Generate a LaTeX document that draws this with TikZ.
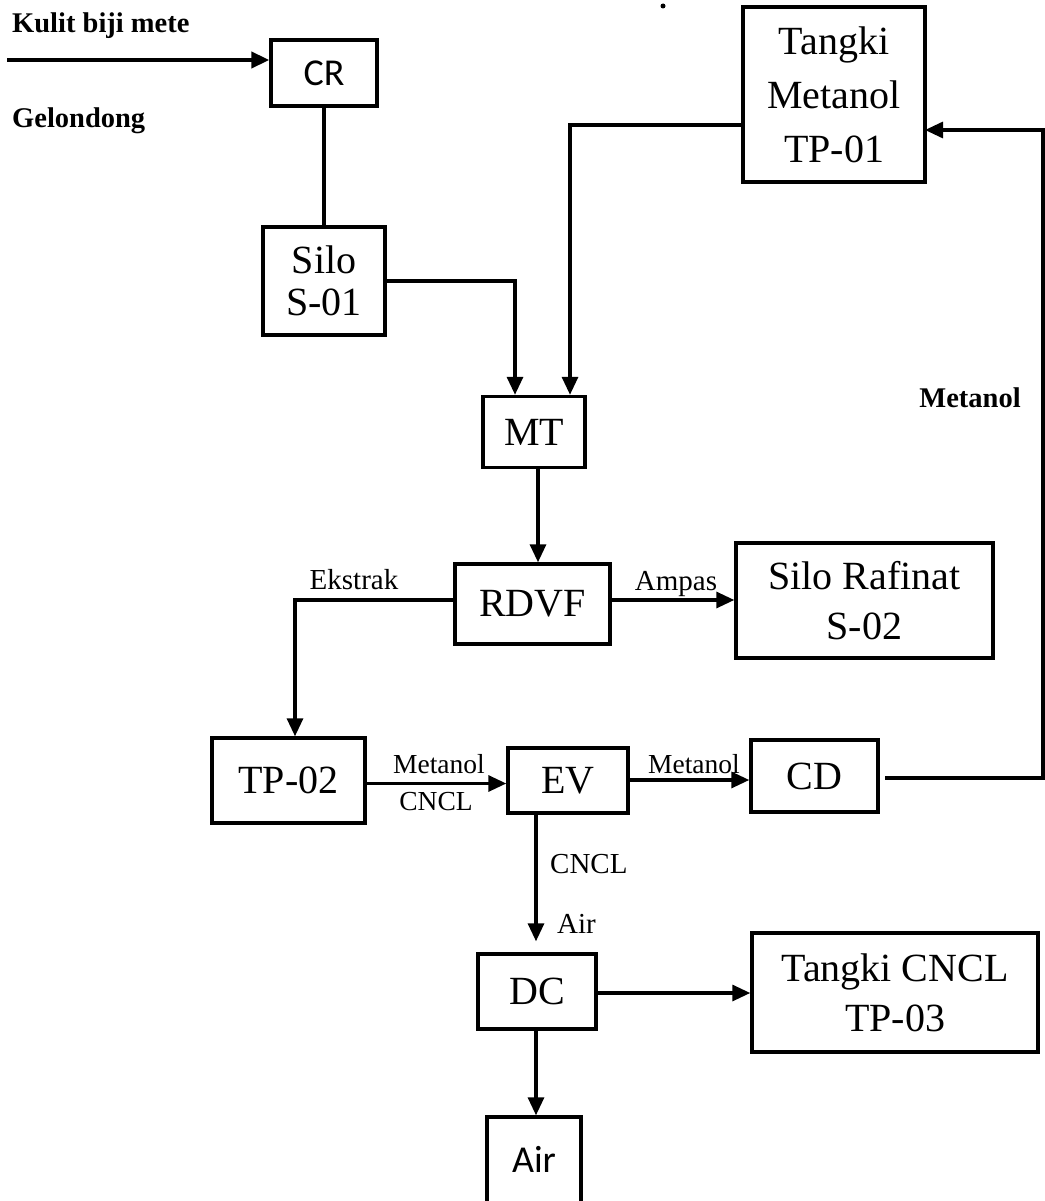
\documentclass[tikz,border=0pt]{standalone}
\usepackage{fontspec}
\setmainfont{Liberation Serif}
\newfontfamily\boxsans{Carlito}
\usetikzlibrary{arrows.meta,calc}
\begin{document}
\begin{tikzpicture}[x=1pt,y=-1pt,
  unitbox/.style={draw,line width=3.4pt,inner sep=0pt,align=center,font=\fontsize{40}{50}\selectfont},
  flow/.style={line width=3.2pt},
  arr/.style={flow,-{Triangle[length=18pt,width=16pt]}},
  lbl/.style={inner sep=0pt,anchor=base,font=\fontsize{29}{32}\selectfont},
  lbls/.style={inner sep=0pt,anchor=base,font=\fontsize{27.5}{30}\selectfont},
  lblb/.style={inner sep=0pt,anchor=base west,font=\fontsize{28.5}{32}\bfseries\selectfont}]
\useasboundingbox (0,0) rectangle (1044,1201);
\fill[white] (0,0) rectangle (1044,1201);

% units
\node[unitbox,minimum width=106pt,minimum height=66pt,font=\fontsize{38}{40}\boxsans] (CR) at (324,73) {CR};
\node[unitbox,minimum width=122pt,minimum height=108pt,font=\fontsize{40}{42}\selectfont] (S01) at (324,281) {Silo\\S-01};
\node[unitbox,minimum width=102pt,minimum height=71pt] (MT) at (534,432) {MT};
\node[unitbox,minimum width=182pt,minimum height=175pt,font=\fontsize{40}{54}\selectfont] (TP01) at (834,94.5) {Tangki\\Metanol\\TP-01};
\node[unitbox,minimum width=155pt,minimum height=80pt] (RDVF) at (532.5,604) {RDVF};
\node[unitbox,minimum width=257pt,minimum height=115pt] (S02) at (864.5,600.5) {Silo Rafinat\\S-02};
\node[unitbox,minimum width=153pt,minimum height=85pt] (TP02) at (288.5,780.5) {TP-02};
\node[unitbox,minimum width=120pt,minimum height=65pt] (EV) at (568,780.5) {EV};
\node[unitbox,minimum width=127pt,minimum height=72pt] (CD) at (814.5,776) {CD};
\node[unitbox,minimum width=118pt,minimum height=75pt] (DC) at (537,991.5) {DC};
\node[unitbox,minimum width=286pt,minimum height=119pt] (TP03) at (895,992.5) {Tangki CNCL\\TP-03};
\node[unitbox,minimum width=94pt,minimum height=96pt,font=\fontsize{38}{40}\boxsans] (AIR) at (534,1165) {\raisebox{12pt}{Air}};

% helper coordinates
\coordinate (feed) at (7,60);
\coordinate (s01out) at (S01.east);
\coordinate (tp01out) at (743,125);
\coordinate (tp01in) at (925,130);
\coordinate (cdout) at (885,778);
\coordinate (rec) at (1043,778);
\coordinate (evx) at (536,0);

% feed
\draw[arr,line width=4.2pt] (feed) -- (feed -| CR.west);
\node[lblb] (kulit) at (12,33) {Kulit biji mete};
\node[lblb] (gel) at (12,128) {Gelondong};

% CR -> Silo
\draw[flow] (CR.south) -- (S01.north);
% Silo -> MT
\draw[arr] (s01out) -| ($(MT.north)+(-19,0)$);
% Tangki -> MT
\draw[arr] (tp01out) -| ($(MT.north)+(36,0)$);
% MT -> RDVF
\draw[arr] ($(MT.south)+(4,0)$) -- ($(RDVF.north)+(5.5,0)$);
% RDVF -> TP-02
\draw[arr] ($(RDVF.west)+(0,-4)$) -| ($(TP02.north)+(6.5,0)$);
\node[lbl] (ekstrak) at (354,589) {Ekstrak};
% RDVF -> Silo Rafinat
\draw[arr] ($(RDVF.east)+(0,-4)$) -- ($(S02.west)+(0,-0.5)$);
\node[lbl] (ampas) at (676,590) {Ampas};
% TP-02 -> EV
\draw[arr] ($(TP02.east)+(0,3)$) -- ($(EV.west)+(0,3)$);
\node[lbls] (met1) at (439,773) {Metanol};
\node[lbls] (cncl1) at (436,810) {CNCL};
% EV -> CD
\draw[arr] ($(EV.east)+(0,-0.5)$) -- ($(CD.west)+(0,4)$);
\node[lbls] (met2) at (694,773) {Metanol};
% CD -> Tangki (recycle)
\draw[arr] (cdout) -- (rec) |- (tp01in);
\node[lblb,anchor=base] (met3) at (970,407) {Metanol};
% EV -> DC
\draw[arr] (EV.south -| evx) -- ($(DC.north -| evx)+(0,-11)$);
\node[lbl,anchor=base west] (cncl2) at (550,873) {CNCL};
\node[lbl,anchor=base west] (airlbl) at (557,933) {Air};
% DC -> TP-03
\draw[arr] ($(DC.east)+(0,1.5)$) -- ($(TP03.west)+(0,0.5)$);
% DC -> Air
\draw[arr] (DC.south -| evx) -- (AIR.north -| evx);

% stray dot
\fill (663,6) circle (2.5pt);
\end{tikzpicture}
\end{document}
